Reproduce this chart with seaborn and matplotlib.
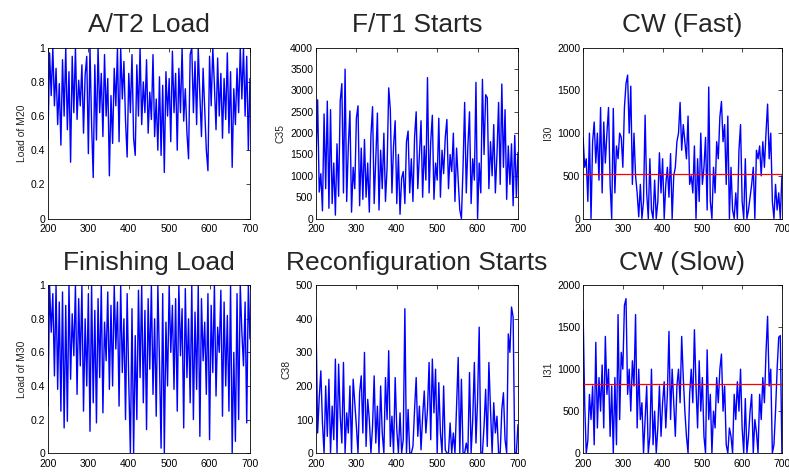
# six panel monitoring chart - loads, starts and CW levels
import numpy as np
import pandas as pd
import matplotlib
matplotlib.use('Agg')
import matplotlib.pyplot as plt
from matplotlib.ticker import FormatStrFormatter, MultipleLocator
import seaborn as sns

# data (one value every 4 time steps)-----------------------------
load_m20 = [0.46, 0.97, 0.72, 1.0, 0.66, 0.88, 0.55, 0.79, 0.43, 0.93,
            0.60, 1.0, 0.52, 0.86, 0.33, 0.95, 0.62, 1.0, 0.58, 0.81,
            0.66, 0.90, 0.50, 0.84, 0.95, 0.38, 1.0, 0.55, 0.24, 0.90,
            0.46, 1.0, 0.62, 0.85, 0.48, 0.96, 0.60, 0.82, 0.25, 0.72,
            0.44, 0.88, 0.66, 1.0, 0.45, 1.0, 0.70, 0.92, 0.57, 0.36,
            0.85, 0.62, 0.96, 0.47, 0.37, 0.90, 0.60, 1.0, 0.55, 0.80,
            0.62, 0.93, 0.50, 0.74, 0.58, 0.96, 0.48, 0.70, 0.40, 0.83,
            0.37, 0.78, 0.27, 0.86, 0.60, 0.82, 0.45, 0.98, 0.62, 0.85,
            0.40, 0.88, 0.62, 1.0, 0.57, 0.76, 0.50, 0.35, 0.96, 1.0,
            0.62, 0.92, 0.55, 1.0, 0.72, 0.48, 0.88, 0.64, 0.40, 0.28,
            0.95, 0.66, 1.0, 0.78, 0.52, 0.94, 0.60, 0.85, 0.47, 0.82,
            0.58, 0.97, 0.50, 0.86, 0.30, 0.76, 0.55, 0.88, 0.62, 1.0,
            0.70, 1.0, 0.60, 0.95, 0.40, 0.82]

starts_c35 = [1380, 2780, 620, 1050, 180, 2450, 700, 2750, 240, 2550,
              350, 1300, 80, 1750, 520, 2760, 3160, 600, 3500, 400,
              1700, 2520, 150, 1200, 700, 2350, 2640, 300, 1650, 450,
              1850, 500, 1300, 150, 1950, 2620, 350, 1400, 2470, 200,
              1600, 700, 2000, 400, 1200, 3060, 2550, 600, 1700, 2290,
              350, 1500, 100, 950, 1100, 350, 1800, 2050, 600, 1400,
              400, 1900, 2500, 700, 1500, 2290, 500, 1700, 900, 3300,
              600, 1800, 2420, 450, 1300, 900, 2350, 500, 1600, 1050,
              1900, 2320, 700, 1500, 1100, 2000, 400, 1650, 900, 200,
              0, 1200, 2720, 600, 1700, 2500, 350, 1400, 900, 3190,
              0, 1300, 600, 3260, 1500, 2900, 2830, 700, 1800, 1000,
              2200, 600, 1500, 2720, 800, 3150, 1200, 2550, 450, 1700,
              800, 1750, 300, 1950, 500, 1550]

cw_fast = [950, 600, 700, 200, 1000, 0, 900, 1130, 650, 1000,
           450, 1300, 300, 1130, 650, 1000, 1300, 400, 0, 1290,
           300, 850, 700, 1000, 950, 600, 1300, 1580, 1680, 1000,
           1550, 400, 1000, 500, 300, 20, 400, 0, 200, 1210,
           300, 0, 700, 100, 0, 450, 0, 200, 770, 300,
           700, 0, 400, 600, 250, 760, 0, 500, 600, 900,
           1000, 1360, 800, 1100, 900, 700, 1200, 400, 500, 300,
           850, 0, 700, 200, 1000, 400, 600, 950, 100, 1540,
           200, 0, 600, 300, 900, 700, 1190, 1370, 900, 1100,
           400, 1200, 0, 600, 100, 0, 300, 0, 800, 1100,
           200, 0, 700, 0, 100, 250, 400, 600, 0, 800,
           700, 850, 500, 900, 600, 1000, 1340, 700, 1000, 200,
           0, 400, 100, 300, 0, 500]

load_m30 = [0.28, 1.0, 0.72, 0.95, 0.46, 1.0, 0.38, 0.90, 0.25, 0.96,
            0.15, 0.88, 0.19, 1.0, 0.44, 0.83, 0.58, 1.0, 0.35, 0.92,
            0.52, 1.0, 0.25, 0.80, 0.40, 0.95, 0.13, 1.0, 0.30, 0.85,
            0.18, 0.92, 0.45, 1.0, 0.24, 0.78, 0.55, 0.96, 0.38, 0.88,
            0.40, 1.0, 0.62, 0.90, 0.28, 1.0, 0.48, 0.80, 0.20, 0.95,
            0.42, 0.0, 0.86, 0.0, 0.70, 0.20, 0.97, 0.45, 1.0, 0.30,
            0.85, 0.14, 0.92, 0.50, 1.0, 0.35, 0.80, 0.22, 1.0, 0.55,
            0.03, 0.95, 0.0, 0.78, 0.40, 1.0, 0.60, 0.88, 0.38, 0.92,
            0.25, 1.0, 0.58, 0.86, 0.15, 0.98, 0.45, 0.80, 0.30, 1.0,
            0.20, 0.84, 0.38, 1.0, 0.10, 0.92, 0.55, 0.78, 0.35, 0.95,
            0.08, 0.88, 0.48, 1.0, 0.34, 0.75, 0.60, 0.97, 0.22, 0.90,
            0.40, 0.82, 0.25, 1.0, 0.0, 0.60, 0.07, 0.95, 0.20, 1.0,
            0.72, 0.52, 0.90, 0.18, 1.0, 0.68]

starts_c38 = [405, 60, 165, 245, 90, 0, 200, 50, 220, 0,
              140, 40, 280, 0, 265, 110, 30, 270, 0, 120,
              60, 200, 0, 220, 150, 80, 0, 180, 230, 60,
              300, 20, 160, 100, 0, 80, 230, 30, 140, 0,
              200, 60, 0, 225, 100, 305, 20, 110, 0, 225,
              70, 0, 120, 0, 40, 430, 0, 130, 0, 0,
              20, 130, 225, 50, 140, 10, 110, 185, 60, 130,
              270, 40, 280, 120, 250, 0, 210, 60, 0, 200,
              10, 0, 0, 90, 0, 60, 0, 140, 285, 0,
              220, 0, 0, 30, 0, 240, 0, 100, 270, 30,
              160, 375, 0, 0, 80, 190, 20, 270, 130, 0,
              150, 60, 110, 0, 0, 130, 180, 40, 0, 355,
              300, 435, 405, 0, 0, 85]

cw_slow = [1700, 600, 0, 150, 700, 400, 800, 100, 1320, 300,
           900, 500, 1050, 300, 1390, 700, 1000, 200, 800, 0,
           900, 100, 1650, 400, 1200, 1000, 1760, 1840, 700, 1000,
           500, 1100, 800, 1650, 300, 1000, 400, 600, 0, 400,
           800, 0, 200, 1000, 100, 500, 0, 300, 800, 200,
           600, 850, 300, 700, 1450, 400, 1000, 600, 200, 800,
           1000, 600, 1390, 900, 500, 200, 0, 700, 1000, 600,
           1470, 800, 300, 1100, 500, 900, 200, 0, 1230, 400,
           700, 0, 500, 300, 900, 600, 1000, 1180, 500, 800,
           100, 0, 300, 200, 0, 700, 400, 850, 500, 1000,
           300, 0, 650, 0, 200, 500, 700, 0, 400, 250,
           0, 700, 400, 900, 600, 1200, 1630, 800, 1000, 0,
           100, 500, 1000, 1380, 1400, 0]

titles = ['A/T2 Load', 'F/T1 Starts', 'CW (Fast)',
          'Finishing Load', 'Reconfiguration Starts', 'CW (Slow)']
ylabels = ['Load of M20', 'C35', 'I30', 'Load of M30', 'C38', 'I31']
ymax = [1, 4000, 2000, 1, 500, 2000]
ystep = [0.2, 500, 500, 0.2, 100, 500]
cw_limits = {2: 520, 5: 820}   # red reference lines on the CW panels

series = [load_m20, starts_c35, cw_fast, load_m30, starts_c38, cw_slow]

# style---------------------
sns.set_style('white')
plt.rcParams['font.family'] = ['Liberation Sans', 'DejaVu Sans']
plt.rcParams['xtick.direction'] = 'in'
plt.rcParams['ytick.direction'] = 'in'

fig = plt.figure(figsize=(7.89, 4.73), dpi=100)

# axes boxes in figure fractions (left, bottom, width, height)
lefts = [0.0608, 0.4005, 0.739]
widths = [0.256, 0.256, 0.252]
bottoms = [0.538, 0.042]
heights = [0.361, 0.355]

for i, vals in enumerate(series):
    r, c = divmod(i, 3)
    ax = fig.add_axes([lefts[c], bottoms[r], widths[c], heights[r]])
    df = pd.DataFrame({'t': np.linspace(200, 700, len(vals)), 'v': vals})
    sns.lineplot(data=df, x='t', y='v', ax=ax, color='blue', linewidth=1.0,
                 estimator=None, sort=False)
    if i in cw_limits:
        ax.axhline(cw_limits[i], color='red', linewidth=0.9)
    ax.set_xlim(200, 700)
    ax.set_ylim(0, ymax[i])
    ax.xaxis.set_major_locator(MultipleLocator(100))
    ax.yaxis.set_major_locator(MultipleLocator(ystep[i]))
    if ystep[i] < 1:
        ax.yaxis.set_major_formatter(FormatStrFormatter('%g'))
    ax.tick_params(labelsize=7.5, length=3, width=0.5, pad=2,
                   top=True, right=True, colors='black')
    ax.tick_params(axis='x', pad=4)
    for s in ax.spines.values():
        s.set_linewidth(0.6)
        s.set_color('black')
    ax.set_xlabel('')
    ax.set_ylabel(ylabels[i], fontsize=7.5, labelpad=3)
    ax.set_title(titles[i], fontsize=19, pad=11)

plt.savefig('out.png', dpi=100)
